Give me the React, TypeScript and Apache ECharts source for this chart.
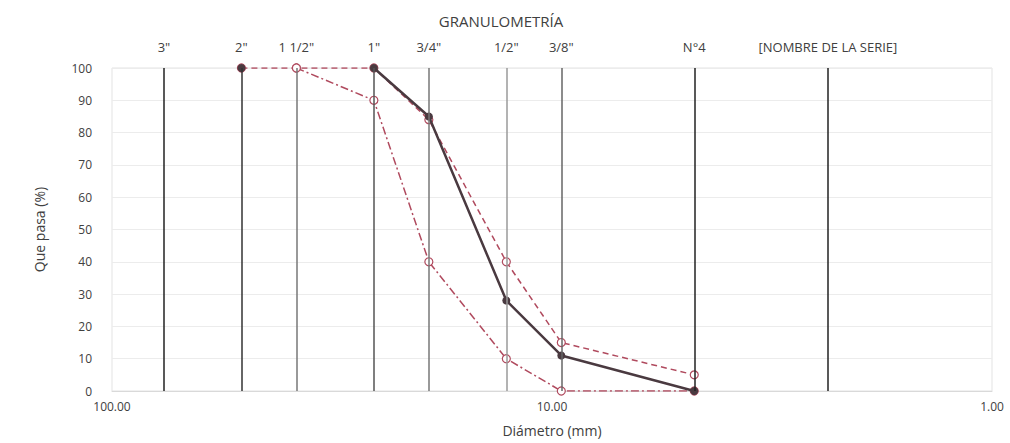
import React, { useEffect, useRef } from "react";
import * as echarts from "echarts";

const sieveSizes = [76.2, 50.8, 38.1, 25.4, 19.05, 12.7, 9.525, 4.75, 2.36];
const sieveLabels = ['3"', '2"', '1 1/2"', '1"', '3/4"', '1/2"', '3/8"', 'N°4', '[NOMBRE DE LA SERIE]'];

const actualX = [50.8, 38.1, 25.4, 19.05, 12.7, 9.525, 4.75];
const actualY: (number | string)[] = [100, "-", 100, 85, 28, 11, 0];

const upperX = [50.8, 38.1, 25.4, 19.05, 12.7, 9.525, 4.75];
const upperY = [100, 100, 100, 84, 40, 15, 5];

const lowerX = [38.1, 25.4, 19.05, 12.7, 9.525, 4.75];
const lowerY = [100, 90, 40, 10, 0, 0];

const FONT = "'Open Sans', 'Liberation Sans', sans-serif";
const RED = "#b04a5e";
const DARK = "#4a3a40";
const SIEVE_COLORS = ["#222", "#333", "#777", "#555", "#777", "#9a9a9a", "#666", "#222", "#222"];

export default function App() {
  const ref = useRef<HTMLDivElement>(null);
  useEffect(() => {
    if (!ref.current) return;
    const chart = echarts.init(ref.current, null, { renderer: "svg" });
    const zip = (xs: number[], ys: any[]) => xs.map((x, i) => [x, ys[i]]);
    chart.setOption({
      animation: false,
      backgroundColor: "#ffffff",
      textStyle: { fontFamily: FONT },
      title: {
        text: "GRANULOMETRÍA",
        left: 496,
        textAlign: "center",
        top: 8,
        textStyle: { fontSize: 15, fontWeight: "normal", color: "#404040", fontFamily: FONT },
      },
      grid: { left: 112, right: 18, top: 68, bottom: 52, show: true, borderColor: "#e3e3e3", borderWidth: 1 },
      xAxis: {
        type: "log",
        logBase: 10,
        min: 1,
        max: 100,
        inverse: true,
        name: "Diámetro (mm)",
        nameLocation: "middle",
        nameGap: 32,
        nameTextStyle: { fontSize: 14, color: "#404040", fontFamily: FONT },
        axisLine: { lineStyle: { color: "#d9d9d9" } },
        axisTick: { show: false },
        axisLabel: {
          color: "#404040",
          fontSize: 12,
          margin: 9,
          formatter: (v: number) => v.toFixed(2),
        },
        splitLine: { show: false },
      },
      yAxis: {
        type: "value",
        min: 0,
        max: 100,
        interval: 10,
        name: "Que pasa (%)",
        nameLocation: "middle",
        nameGap: 66,
        nameTextStyle: { fontSize: 14, color: "#404040", fontFamily: FONT },
        axisLine: { show: false },
        axisTick: { show: false },
        axisLabel: { color: "#404040", fontSize: 12, margin: 20 },
        splitLine: { lineStyle: { color: "#ececec" } },
      },
      series: [
        {
          type: "line",
          data: [],
          silent: true,
          markLine: {
            symbol: "none",
            silent: true,
            lineStyle: { color: "#2a2a2a", width: 1.5, type: "solid" },
            label: {
              show: true,
              position: "end",
              distance: 15,
              color: "#404040",
              fontSize: 13,
              fontFamily: FONT,
              formatter: (p: any) => p.name,
            },
            data: sieveSizes.map((s, i) => [
              { coord: [s, 0], name: sieveLabels[i], lineStyle: { color: SIEVE_COLORS[i] } },
              { coord: [s, 100], name: sieveLabels[i] },
            ]),
          },
        },
        {
          name: "Superior",
          type: "line",
          data: zip(upperX, upperY),
          symbol: "circle",
          symbolSize: 8,
          itemStyle: { color: "#ffffff", borderColor: RED, borderWidth: 1.2 },
          lineStyle: { color: RED, width: 1.5, type: [6, 4] },
          z: 3,
        },
        {
          name: "Inferior",
          type: "line",
          data: zip(lowerX, lowerY),
          symbol: "circle",
          symbolSize: 8,
          itemStyle: { color: "#ffffff", borderColor: RED, borderWidth: 1.2 },
          lineStyle: { color: RED, width: 1.5, type: [8, 3, 2, 3] },
          z: 3,
        },
        {
          name: "Muestra",
          type: "line",
          data: zip(actualX, actualY),
          connectNulls: false,
          symbol: "circle",
          symbolSize: 8,
          itemStyle: { color: DARK },
          lineStyle: { color: DARK, width: 2.5 },
          z: 4,
        },
      ],
    });
    return () => chart.dispose();
  }, []);
  return <div ref={ref} style={{ width: 1010, height: 443, position: "absolute", left: 0, top: 0 }} />;
}
